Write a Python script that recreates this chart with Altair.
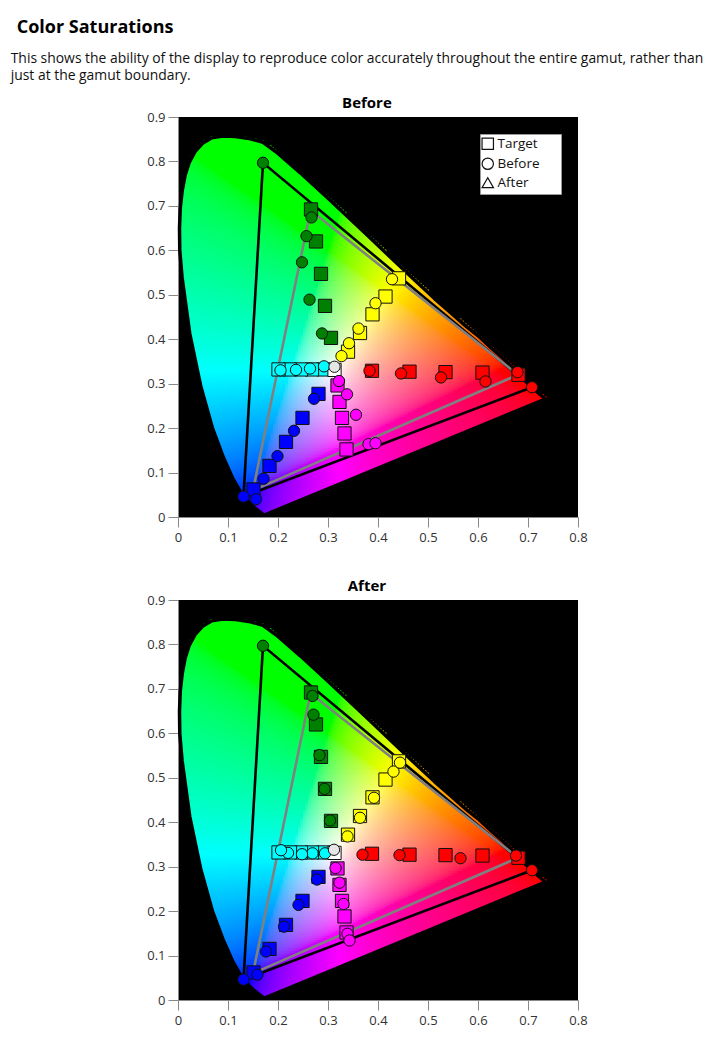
import altair as alt
import numpy as np
import pandas as pd

# ---------------- data ----------------
# spectral locus outline as drawn in the reference (380 nm ... 700 nm)
locus_x = [0.1741, 0.1740, 0.1738, 0.1736, 0.1733, 0.1730, 0.1726, 0.1721, 0.1714, 0.1703,
           0.1689, 0.1669, 0.1644, 0.1611, 0.1566, 0.1510, 0.1440, 0.1355, 0.1241, 0.1096,
           0.0913, 0.0687, 0.0454, 0.0235, 0.0082, 0.0035, 0.0030, 0.0045, 0.0085, 0.0145,
           0.0225, 0.0340, 0.0490, 0.0670, 0.0900, 0.1150, 0.1450, 0.1700, 0.2000, 0.2440,
           0.3000, 0.3730, 0.4440, 0.4790, 0.5125, 0.5448, 0.5752, 0.6029, 0.6270, 0.6482,
           0.6658, 0.6801, 0.6915, 0.7006, 0.7079, 0.7140, 0.7190, 0.7230, 0.7260, 0.7283,
           0.7300, 0.7311, 0.7320, 0.7334, 0.7344, 0.7347]
locus_y = [0.0050, 0.0050, 0.0049, 0.0049, 0.0048, 0.0048, 0.0048, 0.0048, 0.0051, 0.0058,
           0.0069, 0.0086, 0.0109, 0.0138, 0.0177, 0.0227, 0.0297, 0.0399, 0.0578, 0.0868,
           0.1327, 0.2007, 0.2950, 0.4127, 0.5384, 0.6000, 0.6500, 0.6950, 0.7350, 0.7700,
           0.7980, 0.8220, 0.8410, 0.8530, 0.8570, 0.8560, 0.8510, 0.8430, 0.8180, 0.7750,
           0.7170, 0.6400, 0.5640, 0.5270, 0.4920, 0.4600, 0.4300, 0.4050, 0.3800, 0.3590,
           0.3400, 0.3250, 0.3120, 0.3020, 0.2940, 0.2859, 0.2809, 0.2770, 0.2740, 0.2717,
           0.2700, 0.2689, 0.2680, 0.2666, 0.2656, 0.2653]

# gamut triangles (closed)
rec2020_x = [0.708, 0.170, 0.131, 0.708]
rec2020_y = [0.292, 0.797, 0.046, 0.292]
p3_x = [0.680, 0.265, 0.150, 0.680]
p3_y = [0.320, 0.690, 0.060, 0.320]
vertex_colors = ["#ff0000", "#008000", "#0000ff"]

group_colors = {"red": "#ff0000", "green": "#008000", "blue": "#0000ff",
                "cyan": "#00ffff", "magenta": "#ff00ff", "yellow": "#ffff00",
                "white": "#ffffff"}

# targets (squares)
target_x = {
    "red": [0.388, 0.463, 0.535, 0.609, 0.681],
    "green": [0.306, 0.294, 0.286, 0.276, 0.266],
    "blue": [0.281, 0.249, 0.216, 0.183, 0.151],
    "cyan": [0.291, 0.268, 0.246, 0.224, 0.201],
    "magenta": [0.319, 0.323, 0.328, 0.333, 0.337],
    "yellow": [0.340, 0.364, 0.389, 0.415, 0.442],
    "white": [0.313],
}
target_y = {
    "red": [0.329, 0.327, 0.326, 0.325, 0.320],
    "green": [0.403, 0.475, 0.547, 0.620, 0.692],
    "blue": [0.277, 0.223, 0.169, 0.115, 0.062],
    "cyan": [0.332, 0.332, 0.332, 0.332, 0.332],
    "magenta": [0.296, 0.259, 0.223, 0.188, 0.152],
    "yellow": [0.372, 0.414, 0.456, 0.496, 0.537],
    "white": [0.331],
}

# measured before (circles)
before_x = {
    "red": [0.383, 0.446, 0.526, 0.615, 0.679],
    "green": [0.288, 0.263, 0.248, 0.257, 0.267],
    "blue": [0.272, 0.232, 0.199, 0.171, 0.156],
    "cyan": [0.292, 0.264, 0.236, 0.205],
    "magenta": [0.322, 0.338, 0.356, 0.381, 0.395],
    "yellow": [0.327, 0.342, 0.361, 0.395, 0.428],
    "white": [0.313],
}
before_y = {
    "red": [0.329, 0.323, 0.314, 0.305, 0.326],
    "green": [0.413, 0.489, 0.573, 0.632, 0.674],
    "blue": [0.266, 0.194, 0.137, 0.086, 0.040],
    "cyan": [0.339, 0.334, 0.331, 0.330],
    "magenta": [0.306, 0.276, 0.230, 0.164, 0.166],
    "yellow": [0.362, 0.391, 0.424, 0.481, 0.535],
    "white": [0.338],
}

# measured after (circles)
after_x = {
    "red": [0.369, 0.443, 0.565, 0.676],
    "green": [0.304, 0.293, 0.283, 0.271, 0.269],
    "blue": [0.278, 0.241, 0.212, 0.176, 0.159],
    "cyan": [0.294, 0.269, 0.248, 0.220, 0.206],
    "magenta": [0.315, 0.323, 0.331, 0.339, 0.343],
    "yellow": [0.339, 0.364, 0.392, 0.431, 0.444],
    "white": [0.312],
}
after_y = {
    "red": [0.327, 0.326, 0.319, 0.325],
    "green": [0.404, 0.475, 0.551, 0.642, 0.684],
    "blue": [0.271, 0.214, 0.165, 0.109, 0.057],
    "cyan": [0.330, 0.330, 0.328, 0.331, 0.337],
    "magenta": [0.297, 0.264, 0.216, 0.149, 0.134],
    "yellow": [0.368, 0.410, 0.455, 0.514, 0.534],
    "white": [0.338],
}

x_ticks = [0, 0.1, 0.2, 0.3, 0.4, 0.5, 0.6, 0.7, 0.8]
y_ticks = [0, 0.1, 0.2, 0.3, 0.4, 0.5, 0.6, 0.7, 0.8, 0.9]

# ---------------- chromaticity background raster ----------------
STEP = 0.005
gx, gy = np.meshgrid(np.arange(0, 0.75, STEP) + STEP / 2, np.arange(0, 0.87, STEP) + STEP / 2)
px, py = gx.ravel(), gy.ravel()
vx, vy = np.array(locus_x), np.array(locus_y)
inside = np.zeros(px.shape, bool)
j = len(vx) - 1
for i in range(len(vx)):
    cond = ((vy[i] > py) != (vy[j] > py)) & (
        px < (vx[j] - vx[i]) * (py - vy[i]) / (vy[j] - vy[i] + 1e-12) + vx[i])
    inside ^= cond
    j = i
px, py = px[inside], py[inside]
X = px / py
Y = np.ones_like(px)
Z = (1 - px - py) / py
M = np.array([[3.2406, -1.5372, -0.4986], [-0.9689, 1.8758, 0.0415], [0.0557, -0.2040, 1.0570]])
rgb = M @ np.vstack([X, Y, Z])
rgb = np.clip(rgb, 0, None)
rgb = rgb / rgb.max(axis=0, keepdims=True)
rgb = np.where(rgb <= 0.0031308, 12.92 * rgb, 1.055 * np.power(rgb, 1 / 2.4) - 0.055)
rgb = np.clip(np.round(rgb * 255), 0, 255).astype(int)
hexcols = ["#%02x%02x%02x" % tuple(c) for c in rgb.T]
raster_df = pd.DataFrame({"x": np.round(px - STEP / 2, 4), "y": np.round(py - STEP / 2, 4), "c": hexcols})

# ---------------- tables ----------------
outline_df = pd.DataFrame({"x": locus_x + [locus_x[0]], "y": locus_y + [locus_y[0]],
                           "i": list(range(len(locus_x) + 1))})
gamut_df = pd.DataFrame({
    "x": rec2020_x + p3_x,
    "y": rec2020_y + p3_y,
    "i": list(range(4)) + list(range(4)),
    "g": ["rec2020"] * 4 + ["p3"] * 4,
    "col": ["#000000"] * 4 + ["#808080"] * 4,
})
vertex_df = pd.DataFrame({"x": rec2020_x[:3], "y": rec2020_y[:3], "c": vertex_colors})


def points_table(xs, ys, kind, white_fill):
    rows = []
    for g in xs:
        for a, b in zip(xs[g], ys[g]):
            c = group_colors[g]
            if g == "white":
                c = white_fill
            rows.append({"x": a, "y": b, "c": c, "kind": kind})
    return pd.DataFrame(rows)


targets_df = points_table(target_x, target_y, "Target", "#ffffff")
before_df = points_table(before_x, before_y, "Before", "#e6e6e6")
after_df = points_table(after_x, after_y, "After", "#e6e6e6")

FONT = "Open Sans"
xscale = alt.Scale(domain=[0, 0.8], nice=False, zero=False)
yscale = alt.Scale(domain=[0, 0.9], nice=False, zero=False)
xenc = alt.X("x:Q", scale=xscale, axis=alt.Axis(values=x_ticks, format="~g", title=None,
                                                labelPadding=4, labelFlush=False))
yenc = alt.Y("y:Q", scale=yscale, axis=alt.Axis(values=y_ticks, format="~g", title=None,
                                                labelPadding=3, labelFlush=False))


def panel(name, meas_df):
    raster = alt.Chart(raster_df).mark_rect(strokeWidth=0).transform_calculate(
        x2=f"datum.x + {STEP * 1.35}", y2=f"datum.y + {STEP * 1.35}"
    ).encode(x=xenc, x2="x2:Q", y=yenc, y2="y2:Q", fill=alt.Fill("c:N", scale=None))
    outline = alt.Chart(outline_df).mark_line(strokeWidth=3.5, color="black", strokeJoin="round").encode(
        x="x:Q", y="y:Q", order="i:Q")
    lines = alt.Chart(gamut_df).mark_line(strokeWidth=2.6).encode(
        x="x:Q", y="y:Q", detail="g:N", order="i:Q", color=alt.Color("col:N", scale=None))
    targets = alt.Chart(targets_df).mark_point(
        filled=True, size=175, stroke="#111111", strokeWidth=1, opacity=1
    ).encode(
        x="x:Q", y="y:Q",
        fill=alt.Fill("c:N", scale=None),
        shape=alt.Shape("kind:N",
                        scale=alt.Scale(domain=["Target", "Before", "After"],
                                        range=["square", "circle", "triangle-up"]),
                        legend=alt.Legend(title=None, orient="top-right", offset=17,
                                          fillColor="white", strokeColor="#999999",
                                          padding=3, rowPadding=3, symbolOffset=-2,
                                          labelFont=FONT, labelFontSize=13.5, labelColor="#111111",
                                          labelOffset=3,
                                          labelExpr="'\u200b' + datum.label + '\u2003\u2004\u200b'",
                                          symbolFillColor="white", symbolStrokeColor="#111111",
                                          symbolStrokeWidth=1.2, symbolSize=130)),
    )
    meas = alt.Chart(meas_df).mark_point(
        shape="circle", filled=True, size=128, stroke="#111111", strokeWidth=1, opacity=1
    ).encode(x="x:Q", y="y:Q", fill=alt.Fill("c:N", scale=None))
    verts = alt.Chart(vertex_df).mark_point(
        shape="circle", filled=True, size=128, stroke="#111111", strokeWidth=1, opacity=1
    ).encode(x="x:Q", y="y:Q", fill=alt.Fill("c:N", scale=None))
    return alt.layer(raster, outline, lines, targets, meas, verts).properties(
        width=400, height=400,
        title=alt.TitleParams(name, font=FONT, fontSize=15, fontWeight="bold",
                              anchor="middle", frame="bounds", offset=0, color="#000000"),
    )


chart = alt.vconcat(panel("Before", before_df), panel("After", after_df), spacing=35).properties(
    title=alt.TitleParams(
        "\u200b\u2004Color Saturations",
        subtitle=["This shows the ability of the display to reproduce color accurately throughout the entire gamut, rather than",
                  "just at the gamut boundary."],
        anchor="start", dx=-136, font=FONT, fontSize=18, fontWeight="bold", color="#000000",
        subtitleFont=FONT, subtitleFontSize=13.9, subtitleColor="#111111",
        subtitlePadding=15, subtitleLineHeight=17, offset=13,
    ),
    padding={"left": 10, "top": 19, "right": 5, "bottom": 5},
).configure_view(fill="black", stroke=None).configure_axis(
    labelFont=FONT, labelFontSize=13, labelColor="#333333", tickColor="#888888",
    domainColor="#888888", tickSize=10, grid=False,
)

chart.save("out.html", embed_options={"renderer": "svg", "actions": False})
